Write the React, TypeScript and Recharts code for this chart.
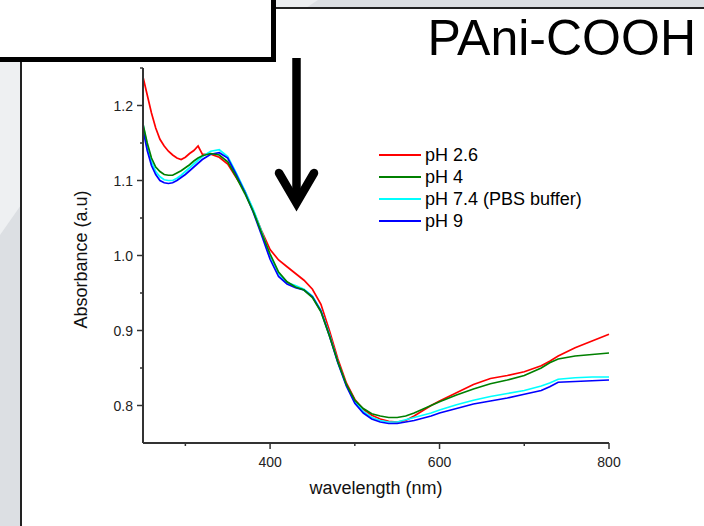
import { LineChart, Line, XAxis, YAxis, Label } from "recharts";

// wavelength (nm)
const wavelengths = [
  250, 255, 260, 265, 270, 275, 280, 285, 290, 295, 300, 305, 310, 315, 320,
  330, 340, 350, 360, 370, 380, 390, 400, 410, 420, 430, 440, 450, 460, 470,
  480, 490, 500, 510, 520, 530, 540, 550, 560, 570, 580, 590, 600,
  620, 640, 660, 680, 700, 720, 730, 740, 760, 780, 800,
];

const ph26 = [
  1.238, 1.214, 1.19, 1.17, 1.155, 1.146, 1.139, 1.134, 1.13, 1.128, 1.131, 1.136, 1.14, 1.146, 1.135,
  1.135, 1.131, 1.122, 1.104, 1.086, 1.06, 1.033, 1.008, 0.994, 0.985, 0.976, 0.967, 0.955, 0.935, 0.9,
  0.862, 0.83, 0.808, 0.795, 0.787, 0.782, 0.779, 0.778, 0.78, 0.786, 0.793, 0.8, 0.806,
  0.817, 0.828, 0.836, 0.84, 0.845, 0.853, 0.859, 0.866, 0.877, 0.886, 0.895,
];

const ph4 = [
  1.175, 1.15, 1.13, 1.118, 1.112, 1.108, 1.107, 1.107, 1.11, 1.113, 1.117, 1.121, 1.126, 1.13, 1.133,
  1.136, 1.134, 1.125, 1.105, 1.083, 1.059, 1.03, 1.002, 0.978, 0.965, 0.958, 0.954, 0.944, 0.925, 0.893,
  0.858, 0.828, 0.807, 0.796, 0.789, 0.786, 0.784, 0.784, 0.786, 0.79, 0.795, 0.8, 0.805,
  0.814, 0.822, 0.829, 0.834, 0.84, 0.85, 0.857, 0.862, 0.866, 0.868, 0.87,
];

const ph74 = [
  1.175, 1.145, 1.125, 1.112, 1.105, 1.101, 1.1, 1.1, 1.103, 1.107, 1.112, 1.117, 1.122, 1.127, 1.132,
  1.139, 1.141, 1.132, 1.11, 1.087, 1.062, 1.032, 1.0, 0.976, 0.964, 0.96, 0.955, 0.946, 0.927, 0.895,
  0.858, 0.827, 0.805, 0.792, 0.784, 0.78, 0.778, 0.778, 0.781, 0.784, 0.787, 0.79, 0.794,
  0.801, 0.807, 0.812, 0.816, 0.82, 0.826, 0.83, 0.835, 0.837, 0.838, 0.838,
];

const ph9 = [
  1.168, 1.14, 1.12, 1.108, 1.1, 1.097, 1.096, 1.097, 1.1, 1.104, 1.108, 1.113, 1.118, 1.123, 1.128,
  1.135, 1.137, 1.13, 1.108, 1.085, 1.058, 1.027, 0.995, 0.972, 0.962, 0.957, 0.954, 0.945, 0.926, 0.893,
  0.857, 0.826, 0.803, 0.79, 0.782, 0.778, 0.776, 0.776, 0.778, 0.78, 0.783, 0.786, 0.79,
  0.796, 0.802, 0.806, 0.81, 0.815, 0.82, 0.825, 0.831, 0.832, 0.833, 0.834,
];

const xMajorTicks = [400, 600, 800];
const xMinorTicks = [300, 500, 700];
const yMajorTicks = [0.8, 0.9, 1.0, 1.1, 1.2];
const yMinorTicks = [0.85, 0.95, 1.05, 1.15, 1.25];

const series = [
  { key: "ph26", name: "pH 2.6", color: "#ff0000" },
  { key: "ph4", name: "pH 4", color: "#008000" },
  { key: "ph74", name: "pH 7.4 (PBS buffer)", color: "#00ffff" },
  { key: "ph9", name: "pH 9", color: "#0000ff" },
];
// draw order (green ends up on top)
const drawOrder = ["ph26", "ph74", "ph9", "ph4"];

const data = wavelengths.map((w, i) => ({
  w,
  ph26: ph26[i],
  ph4: ph4[i],
  ph74: ph74[i],
  ph9: ph9[i],
}));

const font = "'Liberation Sans', Arial, sans-serif";
const axisColor = "#333";

const isIn = (arr: number[], v: number) => arr.some((t) => Math.abs(t - v) < 1e-6);

const YTick = (props: any) => {
  const { x, y, payload } = props;
  const major = isIn(yMajorTicks, payload.value);
  return (
    <g>
      <line x1={x} x2={x - (major ? 6 : 3)} y1={y} y2={y} stroke={axisColor} strokeWidth={1.5} />
      {major && (
        <text x={x - 10} y={y + 5} textAnchor="end" fontSize={14} fill="#222" fontFamily={font}>
          {payload.value.toFixed(1)}
        </text>
      )}
    </g>
  );
};

const XTick = (props: any) => {
  const { x, y, payload } = props;
  const major = isIn(xMajorTicks, payload.value);
  return (
    <g>
      <line x1={x} x2={x} y1={y} y2={y + (major ? 6 : 3)} stroke={axisColor} strokeWidth={1.5} />
      {major && (
        <text x={x} y={y + 24} textAnchor="middle" fontSize={14} fill="#222" fontFamily={font}>
          {payload.value}
        </text>
      )}
    </g>
  );
};

function Backdrop() {
  return (
    <svg width={704} height={526} style={{ position: "absolute", left: 0, top: 0 }}>
      <rect x={0} y={0} width={704} height={526} fill="#dcdfe3" />
      <polygon points="276,0 318,0 306,8 276,8" fill="#eceef0" />
      <polygon points="0,62 21,62 21,205 0,235" fill="#eef0f2" />
      <rect x={21} y={8} width={683} height={518} fill="#fff" />
      <line x1={20} y1={8} x2={704} y2={8} stroke="#222" strokeWidth={2} />
      <line x1={21} y1={8} x2={21} y2={526} stroke="#222" strokeWidth={2} />
      <rect x={-10} y={-10} width={283.5} height={69.5} fill="#fff" stroke="#000" strokeWidth={5} />
      <line x1={296.5} y1={58} x2={296.5} y2={200} stroke="#000" strokeWidth={8.5} />
      <polyline
        points="279,173 296.5,203 314,173"
        fill="none"
        stroke="#000"
        strokeWidth={8.5}
        strokeLinecap="round"
        strokeLinejoin="miter"
      />
      <text x={696} y={55} textAnchor="end" fontSize={50} fontFamily={font} fill="#000">
        PAni-COOH
      </text>
    </svg>
  );
}

function LegendBox() {
  return (
    <div style={{ position: "absolute", left: 379, top: 144, fontFamily: font, fontSize: 18 }}>
      {series.map((s) => (
        <div key={s.key} style={{ display: "flex", alignItems: "center", height: 22 }}>
          <div style={{ width: 42, height: 2, background: s.color, marginRight: 4 }} />
          <span style={{ color: "#000", lineHeight: "22px" }}>{s.name}</span>
        </div>
      ))}
    </div>
  );
}

export default function App() {
  return (
    <div style={{ position: "absolute", left: 0, top: 0, width: 704, height: 526, overflow: "hidden" }}>
      <Backdrop />
      <div style={{ position: "absolute", left: 0, top: 0 }}>
        <LineChart width={704} height={526} data={data} margin={{ top: 68, right: 95, bottom: 0, left: 0 }}>
          <XAxis
            dataKey="w"
            type="number"
            domain={[250, 800]}
            ticks={[...xMinorTicks, ...xMajorTicks].sort((a, b) => a - b)}
            height={83}
            tickSize={0}
            tickMargin={0}
            tickLine={false}
            axisLine={{ stroke: axisColor, strokeWidth: 2 }}
            tick={<XTick />}
            interval={0}
          >
            <Label
              content={(p: any) => {
                const vb = p.viewBox;
                return (
                  <text x={vb.x + vb.width / 2} y={vb.y + 51} textAnchor="middle" fontSize={18} fontFamily={font} fill="#111">
                    wavelength (nm)
                  </text>
                );
              }}
            />
          </XAxis>
          <YAxis
            type="number"
            domain={[0.75, 1.25]}
            ticks={[...yMajorTicks, ...yMinorTicks].sort((a, b) => a - b)}
            width={143}
            tickSize={0}
            tickMargin={0}
            tickLine={false}
            axisLine={{ stroke: axisColor, strokeWidth: 2 }}
            tick={<YTick />}
            interval={0}
            allowDataOverflow
          >
            <Label
              content={(p: any) => {
                const vb = p.viewBox;
                const cx = vb.x + 81;
                const cy = vb.y + vb.height / 2 + 4;
                return (
                  <text
                    x={cx}
                    y={cy}
                    transform={`rotate(-90 ${cx} ${cy})`}
                    textAnchor="middle"
                    dominantBaseline="central"
                    fontSize={18}
                    fontFamily={font}
                    fill="#111"
                  >
                    Absorbance (a.u)
                  </text>
                );
              }}
            />
          </YAxis>
          {drawOrder.map((k) => {
            const s = series.find((x) => x.key === k)!;
            return (
              <Line
                key={k}
                dataKey={k}
                name={s.name}
                stroke={s.color}
                strokeWidth={1.7}
                dot={false}
                type="linear"
                isAnimationActive={false}
              />
            );
          })}
        </LineChart>
      </div>
      <LegendBox />
    </div>
  );
}
